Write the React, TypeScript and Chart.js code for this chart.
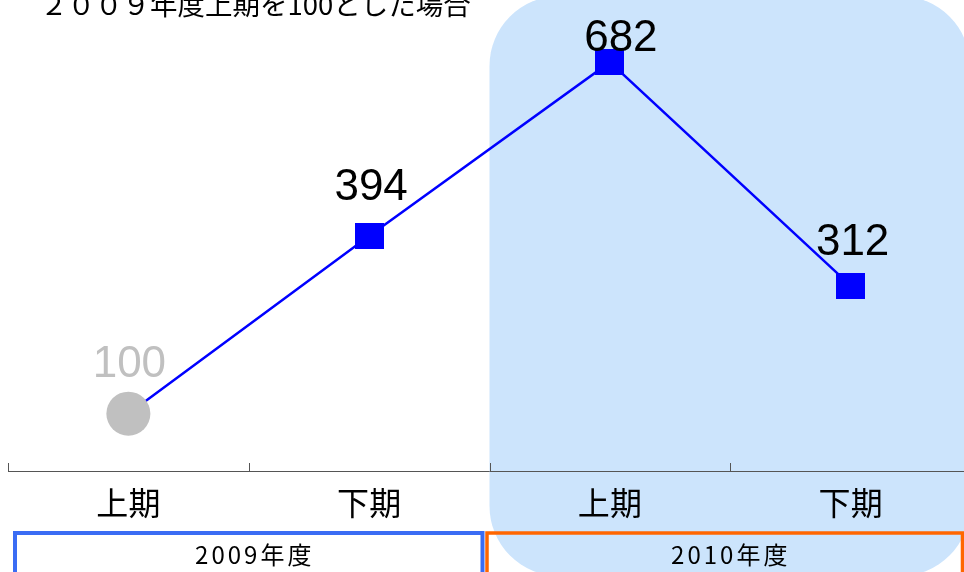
import React, { useEffect, useRef } from "react";
import { Chart, registerables } from "chart.js";

Chart.register(...registerables);

const categories = ["上期", "下期", "上期", "下期"];
const values = [100, 394, 682, 312];
const yearLabels = ["2009年度", "2010年度"];
const yearSpans = [
  [0, 1],
  [2, 3],
];
const titleText = "２００９年度上期を100とした場合";

// styles (not data)
const yearBoxColors = ["#3a6cf4", "#ff6600"];
const labelOffsets = [
  [1, -37],
  [2, -36],
  [11, -11],
  [2, -31],
];
const labelColors = ["#c0c0c0", "#000000", "#000000", "#000000"];
const JP = '"Noto Sans CJK JP", "Noto Sans", sans-serif';
const LAT = '"Liberation Sans", Arial, sans-serif';

function makeRectImage() {
  const c = document.createElement("canvas");
  c.width = 29;
  c.height = 26;
  const g = c.getContext("2d")!;
  g.fillStyle = "#0000ff";
  g.fillRect(0, 0, 29, 26);
  return c;
}

const decorPlugin = {
  id: "decor",
  beforeDatasetsDraw(chart: any) {
    const { ctx, scales } = chart;
    const x = scales.x;
    const step = x.getPixelForValue(1) - x.getPixelForValue(0);
    const left = (x.getPixelForValue(1) + x.getPixelForValue(2)) / 2;
    ctx.save();
    ctx.fillStyle = "#cce4fc";
    ctx.beginPath();
    (ctx as any).roundRect(left, -4, step * 2 - 1, 580, 70);
    ctx.fill();
    ctx.restore();
  },
  afterDatasetsDraw(chart: any) {
    const { ctx, scales, chartArea } = chart;
    const x = scales.x;
    const y = scales.y;
    const step = x.getPixelForValue(1) - x.getPixelForValue(0);
    const bound = (i: number) => x.getPixelForValue(0) - step / 2 + i * step;
    ctx.save();
    // axis line + ticks
    ctx.strokeStyle = "#555555";
    ctx.lineWidth = 1;
    ctx.beginPath();
    ctx.moveTo(chartArea.left, 471.5);
    ctx.lineTo(chartArea.right, 471.5);
    for (let i = 0; i <= categories.length; i++) {
      const xx = Math.round(bound(i)) + 0.5;
      ctx.moveTo(xx, 463);
      ctx.lineTo(xx, 471.5);
    }
    ctx.stroke();

    // category labels
    ctx.fillStyle = "#000";
    ctx.font = `32px ${JP}`;
    ctx.textAlign = "center";
    ctx.textBaseline = "alphabetic";
    categories.forEach((c, i) => {
      ctx.fillText(c, x.getPixelForValue(i), 515);
    });

    // year boxes
    const insets = [
      [7, 7],
      [-2.5, 8.5],
    ];
    yearSpans.forEach((span, k) => {
      const l = bound(span[0]) + insets[k][0];
      const r = bound(span[1] + 1) - insets[k][1];
      ctx.strokeStyle = yearBoxColors[k];
      ctx.lineWidth = k === 0 ? 4 : 3.5;
      ctx.beginPath();
      ctx.rect(l, 533, r - l, 80);
      ctx.stroke();
      ctx.save();
      ctx.fillStyle = "#000";
      ctx.font = `24px ${JP}`;
      (ctx as any).letterSpacing = "3px";
      ctx.textAlign = "center";
      ctx.fillText(yearLabels[k], (l + r) / 2 + 6, 564);
      ctx.restore();
    });

    // value labels
    ctx.font = `44px ${LAT}`;
    ctx.textAlign = "center";
    values.forEach((v, i) => {
      const px = x.getPixelForValue(i);
      const py = y.getPixelForValue(v);
      ctx.fillStyle = labelColors[i];
      ctx.fillText(String(v), px + labelOffsets[i][0], py + labelOffsets[i][1]);
    });

    // title
    ctx.fillStyle = "#000";
    ctx.font = `27.5px ${JP}`;
    ctx.textAlign = "left";
    ctx.fillText(titleText, 32, 15);
    ctx.restore();
  },
};

export default function App() {
  const ref = useRef<HTMLCanvasElement | null>(null);
  useEffect(() => {
    if (!ref.current) return;
    const img = makeRectImage();
    const chart = new Chart(ref.current, {
      type: "line",
      data: {
        labels: categories,
        datasets: [
          {
            data: values,
            borderColor: "#0000ff",
            borderWidth: 2.5,
            tension: 0,
            fill: false,
            pointStyle: ["circle", img, img, img] as any,
            pointRadius: [22, 15, 15, 15],
            pointBackgroundColor: ["#c0c0c0", "#0000ff", "#0000ff", "#0000ff"],
            pointBorderWidth: 0,
            pointBorderColor: "rgba(0,0,0,0)",
            clip: false as any,
          },
        ],
      },
      options: {
        animation: false,
        responsive: false,
        devicePixelRatio: 1,
        layout: {
          autoPadding: false,
          padding: { left: 0, right: 0, top: 0, bottom: 101 },
        } as any,
        plugins: {
          legend: { display: false },
          tooltip: { enabled: false },
          title: { display: false },
        },
        scales: {
          x: { type: "category", offset: true, display: false },
          y: { type: "linear", min: 5, max: 785, display: false },
        },
      },
      plugins: [decorPlugin],
    });
    return () => chart.destroy();
  }, []);
  return (
    <div
      style={{
        position: "fixed",
        left: 0,
        top: 0,
        width: 964,
        height: 572,
        overflow: "hidden",
        background: "#fff",
      }}
    >
      <canvas
        ref={ref}
        width={963}
        height={572}
        style={{ position: "absolute", left: 8, top: 0, width: 963, height: 572 }}
      />
    </div>
  );
}
